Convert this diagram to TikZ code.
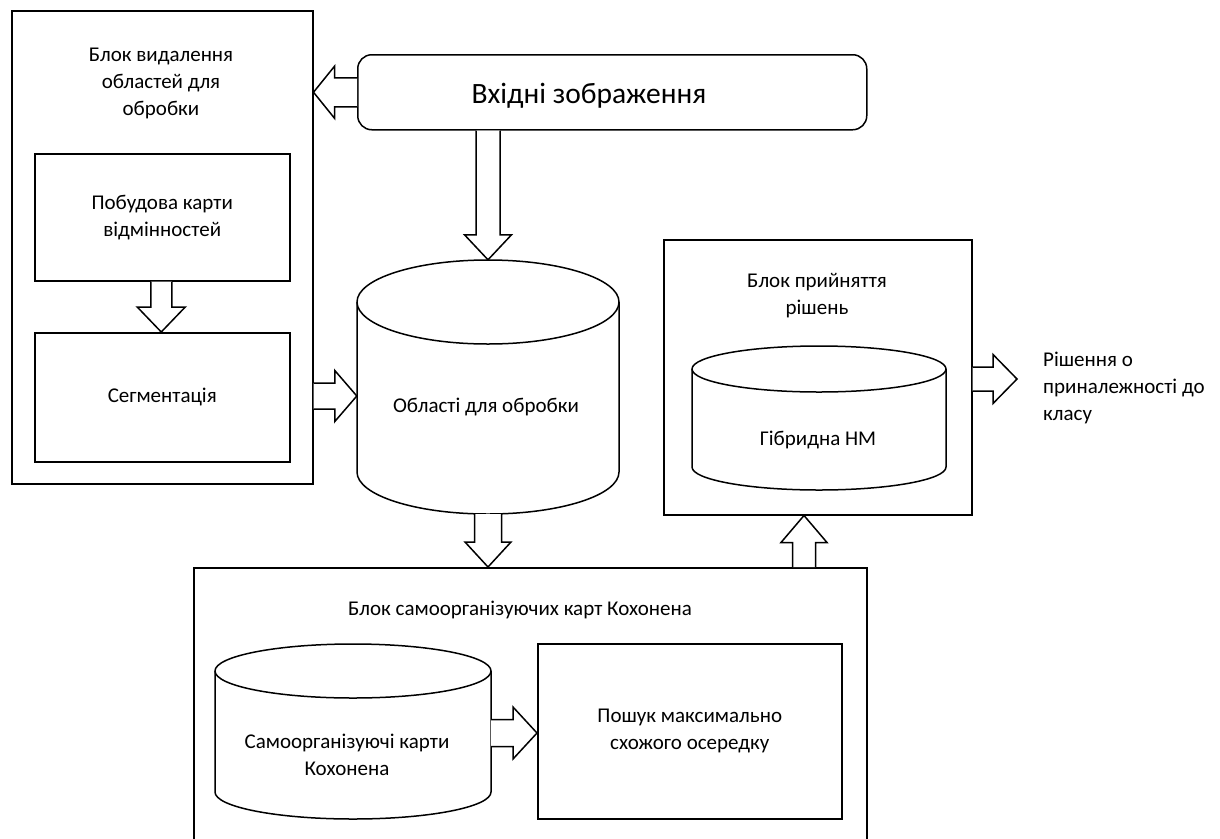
\documentclass[tikz,border=0pt]{standalone}
\usepackage{fontspec}
\setmainfont{Carlito}
\usetikzlibrary{calc}
\tikzset{
  box/.style={draw, line width=1.5pt, rectangle, inner sep=0pt, anchor=north west},
  txt/.style={inner sep=0pt, align=center, font=\fontsize{21}{27}\selectfont},
  bigtxt/.style={inner sep=0pt, font=\fontsize{29.5}{34}\selectfont},
  cyl/.style={draw, line width=1.5pt, fill=white},
  cylfront/.style={draw, line width=1.5pt},
  barrow/.style={draw, line width=1.5pt, fill=white, line join=miter}
}
% block arrow: from, to, shaft half width, head half width, head length
\newcommand\blockarrow[5]{%
  \path ($(#2)!#5!(#1)$) coordinate (bah);
  \draw[barrow] ($(#1)!#3!90:(#2)$) -- ($(bah)!#3!90:(#2)$) -- ($(bah)!#4!90:(#2)$) -- (#2)
     -- ($(bah)!#4!-90:(#2)$) -- ($(bah)!#3!-90:(#2)$) -- ($(#1)!#3!-90:(#2)$);
}
% cylinder: name, cx, top-ellipse cy, bottom-ellipse cy, rx, ry  (y grows downward)
\newcommand\drawcyl[6]{%
  \node[inner sep=0pt, minimum width=2*#5pt, minimum height={(#4-#3+2*#6)*1pt}] (#1) at (#2,{(#3+#4)/2}) {};
  \draw[cyl] ({#2-#5},#3) -- ({#2-#5},#4)
     .. controls ({#2-#5},{#4+0.5523*#6}) and ({#2-0.5523*#5},{#4+#6}) .. (#2,{#4+#6})
     .. controls ({#2+0.5523*#5},{#4+#6}) and ({#2+#5},{#4+0.5523*#6}) .. ({#2+#5},#4)
     -- ({#2+#5},#3)
     .. controls ({#2+#5},{#3-0.5523*#6}) and ({#2+0.5523*#5},{#3-#6}) .. (#2,{#3-#6})
     .. controls ({#2-0.5523*#5},{#3-#6}) and ({#2-#5},{#3-0.5523*#6}) .. ({#2-#5},#3) -- cycle;
  \draw[cylfront] ({#2-#5},#3)
     .. controls ({#2-#5},{#3+0.5523*#6}) and ({#2-0.5523*#5},{#3+#6}) .. (#2,{#3+#6})
     .. controls ({#2+0.5523*#5},{#3+#6}) and ({#2+#5},{#3+0.5523*#6}) .. ({#2+#5},#3);
}
\begin{document}
\begin{tikzpicture}[x=1pt, y=-1pt]
\useasboundingbox (0,0) rectangle (1220,838);

% left block
\node[box, minimum width=301pt, minimum height=473pt] (lb) at (11,10) {};
\node[txt] (lbt) at (161,83) {Блок видалення\\областей для\\обробки};
\node[box, minimum width=255pt, minimum height=127pt] (b1) at (34,153) {};
\node[txt] (b1t) at (b1.center) {Побудова карти\\відмінностей};
\node[box, minimum width=255pt, minimum height=129pt] (b2) at (34,332) {};
\node[txt] (b2t) at (b2.center) {Сегментація};

% input
\node[box, rounded corners=14pt, minimum width=509pt, minimum height=75pt] (in) at (357,54) {};
\node[bigtxt] (int) at (589,96) {Вхідні зображення};

% cylinder 1
\drawcyl{c1}{488}{302}{472}{131}{42}
\node[txt] (c1t) at (486,407) {Області для обробки};

% decision block
\node[box, minimum width=308pt, minimum height=275pt] (rb) at (663,239) {};
\node[txt] (rbt) at (817,296) {Блок прийняття\\рішень};
\drawcyl{c2}{819}{369}{467}{127}{23}
\node[txt] (c2t) at (818,440) {Гібридна НМ};
\node[txt, align=left, anchor=west] (out) at (1043,388) {Рішення о\\приналежності до\\класу};

% bottom block
\node[box, minimum width=673pt, minimum height=290pt] (bb) at (193,567) {};
\node[txt] (bbt) at (520,610) {Блок самоорганізуючих карт Кохонена};
\drawcyl{c3}{353}{671}{792}{138}{27}
\node[txt] (c3t) at (347,755) {Самоорганізуючі карти\\Кохонена};
\node[box, minimum width=304pt, minimum height=175pt] (sb) at (537,643) {};
\node[txt] (sbt) at (sb.center) {Пошук максимально\\схожого осередку};

% arrows
\coordinate (a1s) at (in.west);
\coordinate (a1e) at (lb.east |- in.west);
\blockarrow{a1s}{a1e}{14.5pt}{26pt}{21pt}

\coordinate (a2s) at (c1.center |- in.south);
\coordinate (a2e) at (c1.north);
\blockarrow{a2s}{a2e}{12pt}{23.5pt}{25pt}

\coordinate (a3s) at ($(b1.south)+(-1,0)$);
\coordinate (a3e) at ($(b2.north)+(-1,0)$);
\blockarrow{a3s}{a3e}{10.5pt}{24pt}{25pt}

\coordinate (a4s) at (lb.east |- 0,396);
\coordinate (a4e) at (c1.west |- 0,396);
\blockarrow{a4s}{a4e}{13pt}{25.5pt}{22pt}

\coordinate (a5s) at (c1.south);
\coordinate (a5e) at (c1.south |- bb.north);
\blockarrow{a5s}{a5e}{13.5pt}{23pt}{25pt}

\coordinate (a6s) at (804,567);
\coordinate (a6e) at (a6s |- rb.south);
\blockarrow{a6s}{a6e}{11.5pt}{23pt}{27pt}

\coordinate (a7s) at (rb.east |- 0,379);
\coordinate (a7e) at (1017,379);
\blockarrow{a7s}{a7e}{12pt}{24.5pt}{24pt}

\coordinate (a8s) at (c3.east |- 0,733);
\coordinate (a8e) at (sb.west |- 0,733);
\blockarrow{a8s}{a8e}{13.5pt}{26pt}{24pt}
\end{tikzpicture}
\end{document}
